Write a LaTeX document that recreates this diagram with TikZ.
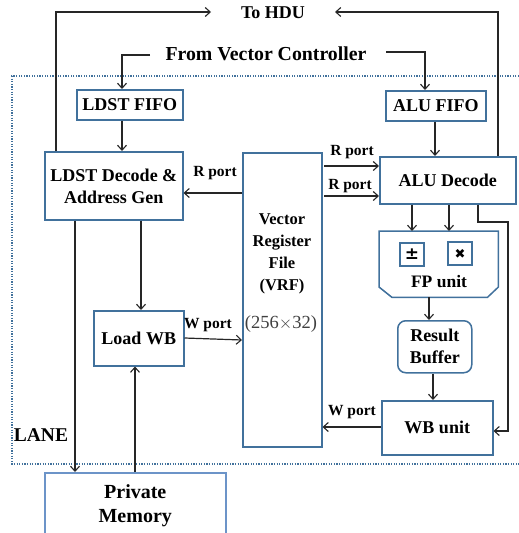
\documentclass[tikz,border=0pt]{standalone}
\usepackage{fontspec}
\setmainfont{Liberation Serif}
\newfontfamily\symfont{DejaVu Sans}
\usetikzlibrary{arrows.meta,calc}
\definecolor{boxblue}{HTML}{41719C}
\definecolor{lineblack}{HTML}{262626}
\definecolor{memblue}{HTML}{6C94C8}
\definecolor{textgrey}{HTML}{404040}
\newcommand\lowered[2]{\raisebox{-#1}[\height][\depth]{\begin{tabular}{@{}c@{}}#2\end{tabular}}}
\tikzset{
  box/.style={draw=boxblue,line width=1.5pt,fill=white,inner sep=0pt,align=center,anchor=north west,font=\fontsize{18}{22}\selectfont\bfseries},
  lab/.style={font=\fontsize{18}{22}\selectfont\bfseries,inner sep=0pt},
  port/.style={font=\fontsize{15.5}{18}\selectfont\bfseries,inner sep=0pt},
  conn/.style={draw=lineblack,line width=1.2pt,-{Straight Barb[length=5pt,width=9pt,line width=1.1pt]}},
}
\begin{document}
\begin{tikzpicture}[x=1pt,y=-1pt]
\useasboundingbox (0,0) rectangle (519,533);
\draw[boxblue,line width=1.4pt,dash pattern=on 1.3pt off 1.3pt] (519,76) -- (12,76) -- (12,464) -- (519,464);
% boxes
\node[box,minimum width=106pt,minimum height=30pt] (lf) at (76,89) {LDST FIFO};
\node[box,minimum width=138pt,minimum height=68pt] (ld) at (44,151) {\lowered{2.5pt}{LDST Decode \&\\Address Gen}};
\node[box,minimum width=100pt,minimum height=30pt] (af) at (385,90) {ALU FIFO};
\node[box,minimum width=136pt,minimum height=47pt] (ad) at (379,156) {ALU Decode};
\node[box,minimum width=79pt,minimum height=294pt] (vrf) at (242,152) {};
\node[lab,align=center,font=\fontsize{16.5}{22}\selectfont\bfseries] (vrft) at (282,253.5) {Vector\\Register\\File\\(VRF)};
\node[font=\fontsize{18.5}{20}\selectfont,inner sep=0pt,text=textgrey] (vrfs) at (281,324) {(256$\times$32)};
\node[box,minimum width=90pt,minimum height=55pt] (lw) at (93,310) {\lowered{2pt}{Load WB}};
\node[box,draw=memblue,minimum width=181pt,minimum height=61pt,font=\fontsize{20}{24}\selectfont\bfseries] (pm) at (44,472) {\lowered{2pt}{Private\\Memory}};
\node[box,rounded corners=8pt,minimum width=74pt,minimum height=52pt] (rb) at (397,320) {Result\\Buffer};
\node[box,minimum width=111pt,minimum height=54pt] (wb) at (381,400) {\lowered{1pt}{WB unit}};
% FP unit
\node[inner sep=0pt,minimum width=119pt,minimum height=66pt,anchor=north west] (fp) at (379,231) {};
\draw[boxblue,line width=1.5pt,fill=white] (fp.north west) -- (fp.north east) -- ($(fp.north east)+(0,56)$) -- ($(fp.south east)+(-11,0)$) -- ($(fp.south west)+(13,0)$) -- ($(fp.north west)+(0,56)$) -- cycle;
\node[lab,font=\fontsize{17.5}{20}\selectfont\bfseries] (fpt) at (439,282) {FP unit};
\node[box,anchor=center,minimum width=24pt,minimum height=23pt,font=\symfont\fontsize{17}{17}\selectfont\bfseries] (plus) at (412,254.5) {±};
\node[box,anchor=center,minimum width=24pt,minimum height=23pt,font=\symfont\fontsize{13}{13}\selectfont] (times) at (460,253.5) {✖};
% free ends
\node[lab] (hdu) at (273,13) {To HDU};
\node[lab,font=\fontsize{19.8}{22}\selectfont\bfseries] (vc) at (266,54) {From Vector Controller};
\node[lab,font=\fontsize{19.5}{22}\selectfont\bfseries] (lane) at (41,435) {LANE};
\coordinate (hl) at (211,12);
\coordinate (hr) at (335,12);
\coordinate (vl) at (150,55);
\coordinate (vr) at (386,52);
% connectors
\draw[conn] (ld.north -| 56,0) -- (56,12) -- (hl);
\draw[conn] (ad.north -| 498,0) -- (498,12) -- (hr);
\draw[conn] (vl) -- (122,55) -- (lf.north -| 122,0);
\draw[conn] (vr) -- (425,52) -- (af.north -| 425,0);
\draw[conn] (lf.south -| 122,0) -- (ld.north -| 122,0);
\draw[conn] (af.south -| 435,0) -- (ad.north -| 435,0);
\draw[conn] (vrf.west |- 0,193) -- (ld.east |- 0,193);
\draw[conn] (324,166) -- (ad.west |- 0,166);
\draw[conn] (324,196) -- (ad.west |- 0,196);
\draw[conn] (ad.south -| 412,0) -- (fp.north -| 412,0);
\draw[conn] (ad.south -| 449,0) -- (fp.north -| 449,0);
\draw[conn] (ad.south -| 478,0) -- (478,222) -- (508,222) -- (508,431) -- (wb.east |- 0,431);
\draw[conn] (fp.south -| 429,0) -- (rb.north -| 429,0);
\draw[conn] (rb.south -| 433,0) -- (wb.north -| 433,0);
\draw[conn] (wb.west |- 0,427) -- (vrf.east |- 0,427);
\draw[conn] (lw.east |- 0,338) -- (vrf.west |- 0,340);
\draw[conn] (ld.south -| 141,0) -- (lw.north -| 141,0);
\draw[conn,line width=1.5pt] (pm.north -| 135,0) -- (lw.south -| 135,0);
\draw[conn] (ld.south -| 75,0) -- (pm.north -| 75,0);
% port labels
\node[port] (p1) at (215,173) {R port};
\node[port] (p2) at (352,152) {R port};
\node[port] (p3) at (350,186) {R port};
\node[port] (p4) at (208,325) {W port};
\node[port] (p5) at (352,412) {W port};
\end{tikzpicture}
\end{document}
